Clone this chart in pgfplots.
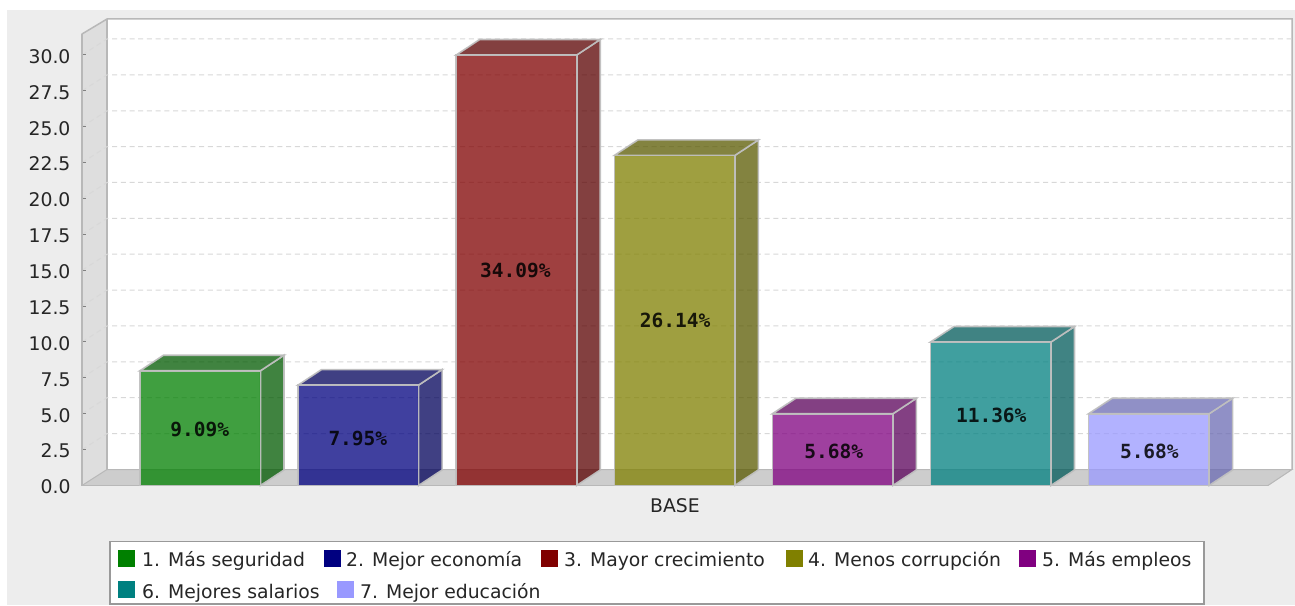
\documentclass[border=0pt]{standalone}
\usepackage{fontspec}
\setmainfont{DejaVu Sans}
\setmonofont{DejaVu Sans Mono}
\usepackage{pgfplots}
\pgfplotsset{compat=1.18}
\definecolor{bg}{HTML}{EDEDED}
\definecolor{wall}{HTML}{DEDEDE}
\definecolor{floorc}{HTML}{CDCDCD}
\definecolor{edgec}{HTML}{B8B8B8}
\definecolor{gridc}{HTML}{D8D8D8}
\definecolor{barline}{HTML}{C0C0C0}
\definecolor{s1}{HTML}{008000}\definecolor{d1}{HTML}{005A00}
\definecolor{s2}{HTML}{000080}\definecolor{d2}{HTML}{00005A}
\definecolor{s3}{HTML}{800000}\definecolor{d3}{HTML}{5A0000}
\definecolor{s4}{HTML}{808000}\definecolor{d4}{HTML}{5A5A00}
\definecolor{s5}{HTML}{800080}\definecolor{d5}{HTML}{5A005A}
\definecolor{s6}{HTML}{008080}\definecolor{d6}{HTML}{005A5A}
\definecolor{s7}{HTML}{9999FF}\definecolor{d7}{HTML}{6B6BB3}
\newcommand\lab{\fontsize{18.8}{18.8}\selectfont}
\newcommand\vallab{\fontsize{19.5}{19.5}\selectfont\ttfamily\bfseries}
\tikzset{
  px/.style={x=1pt,y=-1pt,xshift=-82pt,yshift=485.5pt},
  face/.style={draw=barline,line width=1.6pt,fill opacity=0.75,draw opacity=0.95,line join=miter},
  barlab/.style={font=\vallab,text=black,text opacity=0.85,inner sep=0pt,anchor=center}
}
\begin{document}
\begin{tikzpicture}
\begin{scope}[px]
  \path[use as bounding box] (0,0) rectangle (1295,605);
  \fill[white] (0,0) rectangle (1295,605);
  \fill[bg] (7,10) rectangle (1295,605);
  % plot walls
  \fill[white] (107,19) rectangle (1292,469.5);
  \fill[wall] (82,34) -- (107,19) -- (107,469.5) -- (82,485.5) -- cycle;
  \fill[floorc] (82,485.5) -- (107,469.5) -- (1292,469.5) -- (1268,485.5) -- cycle;
  \draw[edgec,line width=1.5pt,line join=miter] (82,485.5) -- (82,34) -- (107,19) -- (1292,19) -- (1292,469.5);
  \draw[edgec,line width=1.5pt] (107,19) -- (107,469.5);
  \draw[edgec,line width=1pt] (107,469.5) -- (1292,469.5) -- (1268,485.5);
  \draw[edgec,line width=1pt] (82,485.5) -- (107,469.5);
  % grid lines, one for each 2.5 step
  \foreach \g in {433.6,397.7,361.85,326,290.1,254.25,218.4,182.5,146.65,110.8,74.9,39}{
    \draw[gridc,line width=1pt,dash pattern=on 5pt off 3.7pt] (82,\g+16) -- (107,\g) -- (1292,\g);
  }
\end{scope}
\begin{axis}[
  x=1pt,y=14.35pt,
  xmin=82,xmax=1268,ymin=0,ymax=31.45,
  clip=false,
  axis y line*=left,
  axis x line*=bottom,
  axis line style={draw=edgec,line width=1.2pt,-},
  xtick={675},xticklabels={BASE},
  ytick={0,2.5,5,7.5,10,12.5,15,17.5,20,22.5,25,27.5,30},
  /pgf/number format/fixed,
  /pgf/number format/fixed zerofill,
  /pgf/number format/precision=1,
  /pgf/number format/assume math mode=true,
  tick label style={font=\lab,text=black!85},
  x tick label style={yshift=-10pt},
  xtick style={draw=none},
  ytick style={draw=gray,line width=1pt},
  major tick length=4.5pt,
  y tick label style={xshift=-8pt,yshift=-1.5pt},
]
% 1. Mas seguridad
\addplot[face,fill=d1] coordinates {(260.5,0)(284,1.08)(284,9.08)(260.5,8)} --cycle;
\addplot[face,fill=d1] coordinates {(140,8)(163.5,9.08)(284,9.08)(260.5,8)} --cycle;
\addplot[ybar,bar width=120.5pt,bar shift=0pt,face,fill=s1] coordinates {(200.25,8)};
% 2. Mejor economia
\addplot[face,fill=d2] coordinates {(418.6,0)(442.1,1.08)(442.1,8.08)(418.6,7)} --cycle;
\addplot[face,fill=d2] coordinates {(298.1,7)(321.6,8.08)(442.1,8.08)(418.6,7)} --cycle;
\addplot[ybar,bar width=120.5pt,bar shift=0pt,face,fill=s2] coordinates {(358.35,7)};
% 3. Mayor crecimiento
\addplot[face,fill=d3] coordinates {(576.7,0)(600.2,1.08)(600.2,31.08)(576.7,30)} --cycle;
\addplot[face,fill=d3] coordinates {(456.2,30)(479.7,31.08)(600.2,31.08)(576.7,30)} --cycle;
\addplot[ybar,bar width=120.5pt,bar shift=0pt,face,fill=s3] coordinates {(516.45,30)};
% 4. Menos corrupcion
\addplot[face,fill=d4] coordinates {(734.8,0)(758.3,1.08)(758.3,24.08)(734.8,23)} --cycle;
\addplot[face,fill=d4] coordinates {(614.3,23)(637.8,24.08)(758.3,24.08)(734.8,23)} --cycle;
\addplot[ybar,bar width=120.5pt,bar shift=0pt,face,fill=s4] coordinates {(674.55,23)};
% 5. Mas empleos
\addplot[face,fill=d5] coordinates {(892.9,0)(916.4,1.08)(916.4,6.08)(892.9,5)} --cycle;
\addplot[face,fill=d5] coordinates {(772.4,5)(795.9,6.08)(916.4,6.08)(892.9,5)} --cycle;
\addplot[ybar,bar width=120.5pt,bar shift=0pt,face,fill=s5] coordinates {(832.65,5)};
% 6. Mejores salarios
\addplot[face,fill=d6] coordinates {(1051,0)(1074.5,1.08)(1074.5,11.08)(1051,10)} --cycle;
\addplot[face,fill=d6] coordinates {(930.5,10)(954,11.08)(1074.5,11.08)(1051,10)} --cycle;
\addplot[ybar,bar width=120.5pt,bar shift=0pt,face,fill=s6] coordinates {(990.75,10)};
% 7. Mejor educacion
\addplot[face,fill=d7] coordinates {(1209.1,0)(1232.6,1.08)(1232.6,6.08)(1209.1,5)} --cycle;
\addplot[face,fill=d7] coordinates {(1088.6,5)(1112.1,6.08)(1232.6,6.08)(1209.1,5)} --cycle;
\addplot[ybar,bar width=120.5pt,bar shift=0pt,face,fill=s7] coordinates {(1148.85,5)};
% labels
\node[barlab] at (axis cs:199.75,3.9) {9.09\%};
\node[barlab] at (axis cs:357.85,3.3) {7.95\%};
\node[barlab] at (axis cs:515.45,15) {34.09\%};
\node[barlab] at (axis cs:675.05,11.5) {26.14\%};
\node[barlab] at (axis cs:833.65,2.35) {5.68\%};
\node[barlab] at (axis cs:991.25,4.9) {11.36\%};
\node[barlab] at (axis cs:1149.35,2.35) {5.68\%};
\end{axis}
\begin{scope}[px]
  \draw[fill=white,draw=gray!80,line width=1.2pt] (110,541.5) rectangle (1204,604);
  \foreach \c/\xa/\xb/\yy/\t in {
    s1/118/142/1/{1. Más seguridad},
    s2/324/346/1/{2. Mejor economía},
    s3/541/564/1/{3. Mayor crecimiento},
    s4/786/808/1/{4. Menos corrupción},
    s5/1019/1042/1/{5. Más empleos},
    s6/118/142/2/{6. Mejores salarios},
    s7/337/360/2/{7. Mejor educación}}{
    \pgfmathsetmacro\ty{\yy==1 ? 549.5 : 581}
    \pgfmathsetmacro\by{\yy==1 ? 566.5 : 598}
    \fill[\c] (\xa,\ty) rectangle (\xa+17,\ty+17);
    \node[anchor=base west,inner sep=0pt,font=\lab,text=black!85] at (\xb,\by) {\t};
  }
\end{scope}
\end{tikzpicture}
\end{document}
